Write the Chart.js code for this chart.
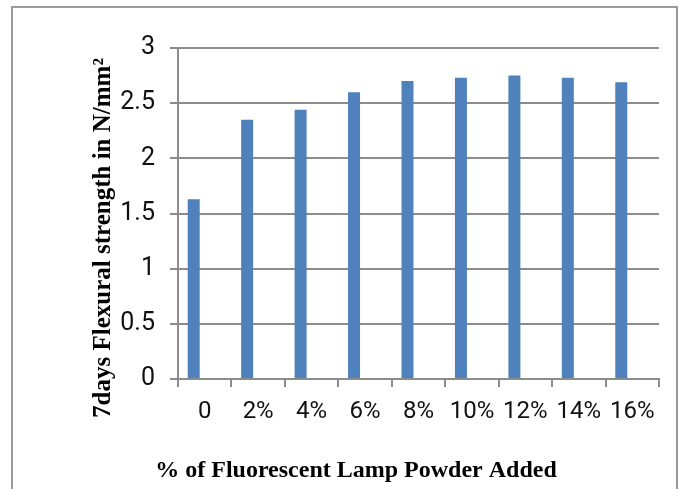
<!DOCTYPE html>
<html>
<head>
    <script src="https://cdn.jsdelivr.net/npm/chart.js"></script>
    <style>
        body { margin: 0; background: #fff; }
        #wrap { width: 681px; height: 489px; }
    </style>
</head>
<body>

    <div id="wrap">
        <canvas id="flexChart"></canvas>
    </div>

    <script>
        // values
        const categories = ['0', '2%', '4%', '6%', '8%', '10%', '12%', '14%', '16%'];
        const strength7d = [1.63, 2.35, 2.44, 2.60, 2.70, 2.73, 2.75, 2.73, 2.69];
        const emptySeries = [null, null, null, null, null, null, null, null, null];
        const yTicks = [0, 0.5, 1, 1.5, 2, 2.5, 3];

        const xTitle = '% of Fluorescent Lamp Powder Added';
        const yTitle = '7days Flexural strength in N/mm\u00B2';

        // frame + axis titles, placed like the original (not centred on the plot)
        const decor = {
            id: 'decor',
            beforeDraw(chart) {
                const ctx = chart.ctx;
                ctx.save();
                ctx.strokeStyle = '#9a9a9a';
                ctx.lineWidth = 2;
                ctx.strokeRect(12, 7, 665, 520);
                ctx.restore();
            },
            afterDraw(chart) {
                const ctx = chart.ctx;
                ctx.save();
                ctx.fillStyle = '#000';
                ctx.font = 'bold 24px "Liberation Serif", "Times New Roman", serif';
                ctx.textAlign = 'center';
                ctx.textBaseline = 'alphabetic';
                ctx.fillText(xTitle, 356, 477);

                ctx.font = 'bold 25px "Liberation Serif", "Times New Roman", serif';
                ctx.translate(110, 238);
                ctx.rotate(-Math.PI / 2);
                ctx.fillText(yTitle, 0, 0);
                ctx.restore();
            }
        };

        const data = {
            labels: categories,
            datasets: [{
                label: '7 days',
                backgroundColor: '#4F81BD',
                borderColor: '#4F81BD',
                data: strength7d,
                barPercentage: 0.545,
                categoryPercentage: 0.824
            }, {
                label: '',
                backgroundColor: '#C0504D',
                data: emptySeries,
                barPercentage: 0.545,
                categoryPercentage: 0.824
            }]
        };

        const config = {
            type: 'bar',
            data: data,
            options: {
                responsive: false,
                animation: false,
                layout: {
                    padding: { left: 0, right: 22, top: 48, bottom: 0 }
                },
                plugins: {
                    legend: { display: false },
                    tooltip: { enabled: false }
                },
                scales: {
                    x: {
                        afterFit: s => { s.height = 110; },
                        grid: {
                            offset: true,
                            drawOnChartArea: false,
                            drawTicks: true,
                            tickLength: 8,
                            color: '#8c8c8c',
                            lineWidth: 2
                        },
                        border: { color: '#8c8c8c', width: 2 },
                        ticks: {
                            padding: 11,
                            color: '#111',
                            font: { family: 'Roboto', size: 24 }
                        }
                    },
                    y: {
                        min: 0,
                        max: 3,
                        afterFit: s => { s.width = 178; },
                        afterBuildTicks: s => { s.ticks = yTicks.map(v => ({ value: v })); },
                        grid: {
                            color: '#8c8c8c',
                            lineWidth: 2,
                            tickLength: 8
                        },
                        border: { color: '#8c8c8c', width: 2 },
                        ticks: {
                            padding: 15,
                            color: '#111',
                            font: { family: 'Roboto', size: 25 },
                            callback: v => String(v)
                        }
                    }
                }
            },
            plugins: [decor]
        };

        const canvas = document.getElementById('flexChart');
        canvas.width = 681;
        canvas.height = 489;
        const myChart = new Chart(canvas, config);
    </script>

</body>
</html>
